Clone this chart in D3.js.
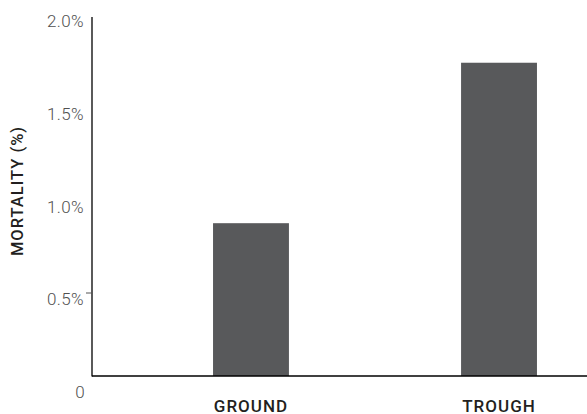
<!DOCTYPE html>
<html>
<head>
<meta charset="utf-8">
<script src="https://cdn.jsdelivr.net/npm/d3@7"></script>
<style>
  html, body { margin: 0; padding: 0; background: #fff; }
  svg { display: block; }
</style>
</head>
<body>
<svg id="chart" width="587" height="414"></svg>
<script>
const categories = ["GROUND", "TROUGH"];
const mortality = [0.91, 1.775];
const tickValues = [0, 0.5, 1.0, 1.5, 2.0];
const tickLabels = ["0", "0.5%", "1.0%", "1.5%", "2.0%"];
const yTitle = "MORTALITY (%)";

const svg = d3.select("#chart");
const axisX = 92, baseY = 376, topY = 17;

const y = d3.scaleLinear().domain([0, 2]).range([392, 21]);
const x = d3.scaleBand().domain(categories).range([92, 658])
  .paddingInner(0.694).paddingOuter(0.488);

// bars
svg.append("g").selectAll("rect").data(categories).join("rect")
  .attr("x", d => x(d))
  .attr("width", x.bandwidth())
  .attr("y", (d, i) => y(mortality[i]))
  .attr("height", (d, i) => baseY - y(mortality[i]))
  .attr("fill", "#58595b");

// axes lines
svg.append("line").attr("x1", axisX).attr("x2", axisX).attr("y1", topY).attr("y2", baseY + 0.5)
  .attr("stroke", "#000").attr("stroke-width", 1.3);
svg.append("line").attr("x1", axisX).attr("x2", 587).attr("y1", baseY).attr("y2", baseY)
  .attr("stroke", "#000").attr("stroke-width", 1.3);
// small tick at 0.5%
svg.append("line").attr("x1", axisX - 6).attr("x2", axisX).attr("y1", 293).attr("y2", 293)
  .attr("stroke", "#555").attr("stroke-width", 1);

// tick labels
svg.append("g").selectAll("text").data(tickValues).join("text")
  .attr("x", (d, i) => i === 0 ? 85 : 84)
  .attr("y", d => y(d))
  .attr("dy", "0.36em")
  .attr("text-anchor", "end")
  .attr("font-family", "Roboto, sans-serif")
  .attr("font-weight", 300)
  .attr("font-size", 17)
  .attr("letter-spacing", "0.4px")
  .attr("fill", "#505050")
  .text((d, i) => tickLabels[i]);

// category labels
svg.append("g").selectAll("text").data(categories).join("text")
  .attr("x", d => x(d) + x.bandwidth() / 2)
  .attr("y", 411.5)
  .attr("text-anchor", "middle")
  .attr("font-family", "Roboto, sans-serif")
  .attr("font-weight", 500)
  .attr("font-size", 17)
  .attr("letter-spacing", "1px")
  .attr("fill", "#231f20")
  .text(d => d);

// y title
svg.append("text")
  .attr("transform", "translate(23,191) rotate(-90)")
  .attr("text-anchor", "middle")
  .attr("font-family", "Roboto, sans-serif")
  .attr("font-weight", 500)
  .attr("font-size", 16.5)
  .attr("letter-spacing", "1px")
  .attr("fill", "#231f20")
  .text(yTitle);
</script>
</body>
</html>
